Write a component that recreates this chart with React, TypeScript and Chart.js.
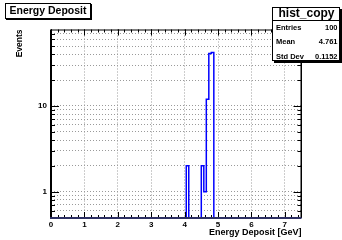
import React, { useEffect, useRef } from 'react';
import { Chart, registerables } from 'chart.js';

Chart.register(...registerables);

// ---- data ----
const BIN_WIDTH = 0.075; // 100 bins from 0 to 7.5
const X_MIN = 0;
const X_MAX = 7.5;
const Y_MIN = 0.493;
const Y_MAX = 78;
const binIndex = [54, 60, 61, 62, 63, 64];
const binCounts = [2, 2, 1, 12, 41, 42];
const xMajorTicks = [0, 1, 2, 3, 4, 5, 6, 7];
const xMinorStep = 0.2;
const yMajorTicks = [1, 10];
const yMinorTicks = [0.5, 0.6, 0.7, 0.8, 0.9, 2, 3, 4, 5, 6, 7, 8, 9, 20, 30, 40, 50, 60, 70];
const titleText = 'Energy Deposit';
const statsTitle = 'hist_copy';
const statsLabels = ['Entries', 'Mean', 'Std Dev'];
const statsValues = ['100', '4.761', '0.1152'];
const xAxisTitle = 'Energy Deposit [GeV]';
const yAxisTitle = 'Events';

const FONT = '"Liberation Sans", Arial, Helvetica, sans-serif';

function buildSteps() {
  const pts: { x: number; y: number }[] = [{ x: X_MIN, y: Y_MIN }];
  for (let i = 0; i < binIndex.length; i++) {
    if (i > 0 && binIndex[i - 1] !== binIndex[i] - 1) {
      pts.push({ x: (binIndex[i - 1] + 1) * BIN_WIDTH, y: Y_MIN });
    }
    pts.push({ x: binIndex[i] * BIN_WIDTH, y: binCounts[i] });
  }
  pts.push({ x: (binIndex[binIndex.length - 1] + 1) * BIN_WIDTH, y: Y_MIN });
  pts.push({ x: X_MAX, y: Y_MIN });
  return pts;
}

const rootPlugin = {
  id: 'rootDecor',
  afterDraw(chart: any) {
    const { ctx, chartArea } = chart;
    const xs = chart.scales.x;
    const ys = chart.scales.y;
    const { left, right, top, bottom } = chartArea;
    ctx.save();
    ctx.strokeStyle = '#000';
    ctx.lineWidth = 1;
    // y ticks (both sides)
    const yTick = (v: number, len: number) => {
      const py = Math.round(ys.getPixelForValue(v)) + 0.5;
      ctx.beginPath();
      ctx.moveTo(left, py);
      ctx.lineTo(left + len, py);
      ctx.moveTo(right, py);
      ctx.lineTo(right - len, py);
      ctx.stroke();
    };
    yMinorTicks.forEach((v) => yTick(v, 4));
    yMajorTicks.forEach((v) => yTick(v, 8));
    // x ticks (both sides)
    const xTick = (v: number, len: number) => {
      const px = Math.round(xs.getPixelForValue(v)) + 0.5;
      ctx.beginPath();
      ctx.moveTo(px, bottom);
      ctx.lineTo(px, bottom - len);
      ctx.moveTo(px, top);
      ctx.lineTo(px, top + len);
      ctx.stroke();
    };
    const nMinor = Math.floor((X_MAX - X_MIN) / xMinorStep + 1e-9);
    for (let i = 0; i <= nMinor; i++) xTick(X_MIN + i * xMinorStep, 3);
    xMajorTicks.forEach((v) => xTick(v, 6));

    // frame
    ctx.beginPath();
    ctx.moveTo(left, top + 0.5);
    ctx.lineTo(right, top + 0.5);
    ctx.stroke();
    ctx.lineWidth = 1.5;
    ctx.beginPath();
    ctx.moveTo(right - 0.25, top);
    ctx.lineTo(right - 0.25, bottom);
    ctx.stroke();
    ctx.lineWidth = 2;
    ctx.beginPath();
    ctx.moveTo(left, top);
    ctx.lineTo(left, bottom + 1);
    ctx.stroke();
    ctx.strokeStyle = '#2c2f63';
    ctx.beginPath();
    ctx.moveTo(left - 1, bottom);
    ctx.lineTo(right, bottom);
    ctx.stroke();

    // title box
    ctx.fillStyle = '#000';
    ctx.fillRect(6, 4, 86, 16);
    ctx.fillStyle = '#fff';
    ctx.fillRect(5, 3, 85, 15);
    ctx.strokeStyle = '#000';
    ctx.lineWidth = 1;
    ctx.strokeRect(5.5, 3.5, 85, 15);
    ctx.fillStyle = '#000';
    ctx.font = `bold 10.5px ${FONT}`;
    ctx.textAlign = 'center';
    ctx.textBaseline = 'middle';
    ctx.fillText(titleText, 48, 11.5);

    // stats box
    ctx.fillStyle = '#000';
    ctx.fillRect(274, 9, 68, 54);
    ctx.fillStyle = '#fff';
    ctx.fillRect(272, 7, 68, 54);
    ctx.strokeRect(272.5, 7.5, 67, 53);
    ctx.beginPath();
    ctx.moveTo(272, 20.5);
    ctx.lineTo(340, 20.5);
    ctx.stroke();
    ctx.fillStyle = '#000';
    ctx.font = `bold 12px ${FONT}`;
    ctx.textAlign = 'center';
    ctx.fillText(statsTitle, 306.5, 14);
    ctx.font = `bold 7.5px ${FONT}`;
    const rowY = [27.5, 42, 56.5];
    statsLabels.forEach((lab, i) => {
      ctx.textAlign = 'left';
      ctx.fillText(lab, 276, rowY[i]);
      ctx.textAlign = 'right';
      ctx.fillText(statsValues[i], 337.5, rowY[i]);
    });
    ctx.restore();
  },
};

export default function App() {
  const ref = useRef<HTMLCanvasElement | null>(null);
  useEffect(() => {
    if (!ref.current) return;
    const chart = new Chart(ref.current, {
      type: 'line',
      data: {
        datasets: [
          {
            data: buildSteps(),
            stepped: 'before',
            borderColor: '#0000ff',
            borderWidth: 1.5,
            pointRadius: 0,
            fill: false,
          },
        ],
      },
      options: {
        animation: false,
        responsive: false,
        events: [],
        layout: { padding: { top: 29.5, right: 40.5, left: 0, bottom: 0 } },
        plugins: { legend: { display: false }, tooltip: { enabled: false }, title: { display: false } },
        scales: {
          x: {
            type: 'linear',
            min: X_MIN,
            max: X_MAX,
            afterBuildTicks: (s: any) => {
              s.ticks = xMajorTicks.map((v) => ({ value: v }));
            },
            afterFit: (s: any) => {
              s.height = 22;
            },
            grid: { color: '#9a9a9a', lineWidth: 1, drawTicks: false },
            border: { display: false, dash: [1, 2] },
            ticks: {
              autoSkip: false,
              maxRotation: 0,
              padding: 2,
              color: '#000',
              font: { family: FONT, size: 8, weight: 'bold' },
              callback: (v: any) => String(v),
            },
            title: {
              display: true,
              text: xAxisTitle,
              align: 'end',
              color: '#000',
              font: { family: FONT, size: 9, weight: 'bold' },
              padding: { top: 0, bottom: 2 },
            },
          },
          y: {
            type: 'logarithmic',
            min: Y_MIN,
            max: Y_MAX,
            afterBuildTicks: (s: any) => {
              s.ticks = [...yMinorTicks, ...yMajorTicks].sort((a, b) => a - b).map((v) => ({ value: v }));
            },
            afterFit: (s: any) => {
              s.width = 51;
            },
            grid: { color: '#9a9a9a', lineWidth: 1, drawTicks: false },
            border: { display: false, dash: [1, 2] },
            ticks: {
              autoSkip: false,
              padding: 4,
              color: '#000',
              font: { family: FONT, size: 8, weight: 'bold' },
              callback: (v: any) => (yMajorTicks.includes(Number(v)) ? String(v) : ''),
            },
            title: {
              display: true,
              text: yAxisTitle,
              align: 'end',
              color: '#000',
              font: { family: FONT, size: 8.5, weight: 'bold' },
              padding: { top: 15, bottom: 0 },
            },
          },
        },
      },
      plugins: [rootPlugin],
    } as any);
    return () => chart.destroy();
  }, []);
  return (
    <div style={{ position: 'absolute', left: 0, top: 0, width: 342, height: 240, background: '#fff' }}>
      <canvas ref={ref} width={342} height={240} style={{ width: 342, height: 240, display: 'block' }} />
    </div>
  );
}
